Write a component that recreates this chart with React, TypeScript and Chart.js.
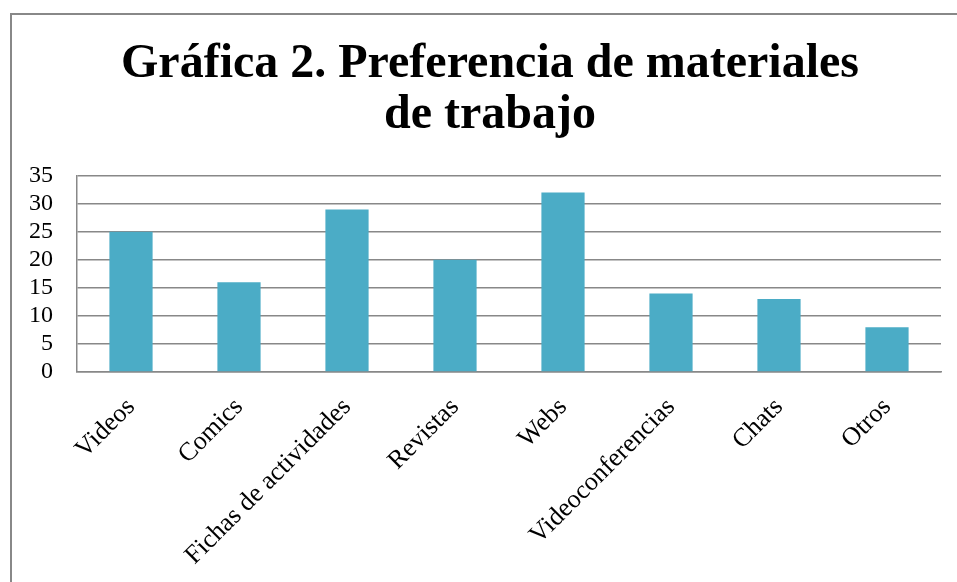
import React, { useEffect, useRef } from "react";
import { Chart, registerables } from "chart.js";

Chart.register(...registerables);

const titleLines = ["Gráfica 2. Preferencia de materiales", "de trabajo"];
const categories = [
  "Videos",
  "Comics",
  "Fichas de actividades",
  "Revistas",
  "Webs",
  "Videoconferencias",
  "Chats",
  "Otros",
];
const values = [25, 16, 29, 20, 32, 14, 13, 8];
const yMin = 0;
const yMax = 35;
const yStep = 5;

const SERIF = "'Liberation Serif', 'Times New Roman', Times, serif";
const GRID = "#888888";

const centerTitlePlugin = {
  id: "centerTitle",
  afterLayout(chart: any) {
    const t = chart.titleBlock;
    if (t) {
      t.left = 0;
      t.right = chart.width;
      t.width = chart.width;
    }
  },
};

export default function App() {
  const ref = useRef<HTMLCanvasElement | null>(null);

  useEffect(() => {
    if (!ref.current) return;
    const chart = new Chart(ref.current, {
      type: "bar",
      data: {
        labels: categories,
        datasets: [
          {
            data: values,
            backgroundColor: "#4BACC6",
            borderWidth: 0,
            barPercentage: 0.4,
            categoryPercentage: 1,
          },
        ],
      },
      options: {
        animation: false,
        responsive: false,
        maintainAspectRatio: false,
        devicePixelRatio: 1,
        layout: { padding: { top: 0, right: 27, bottom: 0, left: 0 } },
        plugins: {
          legend: { display: false },
          tooltip: { enabled: false },
          title: {
            display: true,
            text: titleLines,
            color: "#000",
            font: { family: SERIF, size: 48, weight: "bold", lineHeight: 1.06 },
            padding: { top: 24, bottom: 35 },
          },
        },
        scales: {
          x: {
            grid: { display: false, drawTicks: false },
            border: { display: true, color: GRID, width: 1.5 },
            ticks: {
              color: "#000",
              font: { family: SERIF, size: 26 },
              maxRotation: 45,
              minRotation: 45,
              autoSkip: false,
              padding: 20,
            },
            afterFit: (scale: any) => {
              scale.height = 263;
            },
          },
          y: {
            min: yMin,
            max: yMax,
            grid: { color: GRID, lineWidth: 1.5, drawTicks: false },
            border: { display: true, color: GRID, width: 1.5 },
            ticks: {
              stepSize: yStep,
              autoSkip: false,
              color: "#000",
              font: { family: SERIF, size: 24, lineHeight: 1 },
              padding: 24,
            },
            afterFit: (scale: any) => {
              scale.width = 65;
            },
          },
        },
      },
      plugins: [centerTitlePlugin],
    });
    return () => chart.destroy();
  }, []);

  return (
    <div
      style={{
        position: "fixed",
        inset: 0,
        overflow: "hidden",
        background: "#fff",
      }}
    >
      <div
        style={{
          position: "absolute",
          left: 10,
          top: 13,
          width: 956,
          height: 620,
          border: "2px solid #888888",
        }}
      >
        <canvas ref={ref} width={956} height={620} style={{ display: "block", width: 956, height: 620 }} />
      </div>
    </div>
  );
}
